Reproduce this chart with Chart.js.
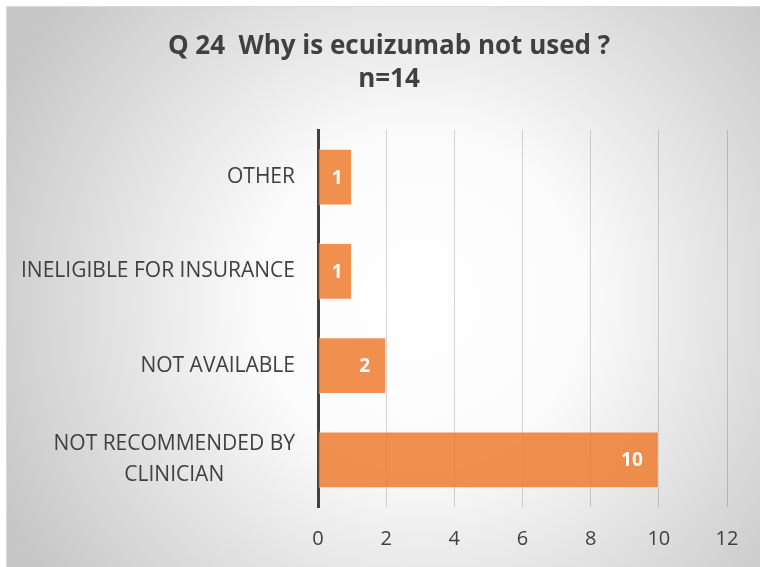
<!DOCTYPE html>
<html>
<head>
<meta charset="utf-8">
<script src="https://cdn.jsdelivr.net/npm/chart.js@4.4.1/dist/chart.umd.min.js"></script>
<style>
    html, body { margin: 0; padding: 0; background: #ffffff; }
    #wrap { width: 760px; height: 567px; }
</style>
</head>
<body>
<div id="wrap"><canvas id="chart" width="760" height="567"></canvas></div>
<script>
var categories = ["OTHER", "INELIGIBLE FOR INSURANCE", "NOT AVAILABLE", ["NOT RECOMMENDED BY", "CLINICIAN"]];
var counts = [1, 1, 2, 10];
var xTicks = [0, 2, 4, 6, 8, 10, 12];
var titleLines = ["Q 24  Why is ecuizumab not used ?", "n=14"];

var textColor = "#404040";
var fontFamily = "'Open Sans', 'Noto Sans', sans-serif";

// background: radial gradient box with thin border
var bgPlugin = {
    id: "bgPlugin",
    beforeDraw: function(chart) {
        var ctx = chart.ctx;
        ctx.save();
        var g = ctx.createRadialGradient(420, 300, 0, 420, 300, 470);
        g.addColorStop(0, "#ffffff");
        g.addColorStop(0.35, "#fbfbfb");
        g.addColorStop(1, "#c6c6c6");
        ctx.fillStyle = g;
        ctx.fillRect(6, 6, chart.width - 6, chart.height - 6);
        ctx.strokeStyle = "#d9d9d9";
        ctx.lineWidth = 1;
        ctx.beginPath();
        ctx.moveTo(6.5, chart.height);
        ctx.lineTo(6.5, 6.5);
        ctx.lineTo(chart.width, 6.5);
        ctx.stroke();
        ctx.restore();
    }
};

// title, centred on the whole chart box
var titlePlugin = {
    id: "titlePlugin",
    afterDraw: function(chart) {
        var ctx = chart.ctx;
        ctx.save();
        ctx.font = "bold 26px " + fontFamily;
        ctx.fillStyle = textColor;
        ctx.textAlign = "center";
        ctx.textBaseline = "middle";
        titleLines.forEach(function(t, i) {
            ctx.fillText(t, 389, 47 + i * 33);
        });
        ctx.restore();
    }
};

// category labels: right aligned block, multi-line centered inside
var catLabelPlugin = {
    id: "catLabelPlugin",
    afterDraw: function(chart) {
        var ctx = chart.ctx;
        var yScale = chart.scales.y;
        var right = chart.chartArea.left - 23;
        ctx.save();
        ctx.font = "21px " + fontFamily;
        ctx.fillStyle = textColor;
        ctx.textBaseline = "middle";
        categories.forEach(function(label, i) {
            var lines = Array.isArray(label) ? label : [label];
            var widths = lines.map(function(l) { return ctx.measureText(l).width; });
            var blockW = Math.max.apply(null, widths);
            var cx = right - blockW / 2;
            var yc = yScale.getPixelForValue(i);
            var lh = 31;
            ctx.textAlign = "center";
            lines.forEach(function(l, j) {
                ctx.fillText(l, cx, yc + (j - (lines.length - 1) / 2) * lh);
            });
        });
        ctx.restore();
    }
};

// value labels inside bar end
var valueLabelPlugin = {
    id: "valueLabelPlugin",
    afterDatasetsDraw: function(chart) {
        var ctx = chart.ctx;
        var meta = chart.getDatasetMeta(0);
        ctx.save();
        ctx.font = "bold 19px " + fontFamily;
        ctx.fillStyle = "#ffffff";
        ctx.textBaseline = "middle";
        meta.data.forEach(function(bar, i) {
            var txt = String(counts[i]);
            var w = ctx.measureText(txt).width;
            var barW = bar.x - bar.base;
            if (barW < w + 30) {
                ctx.textAlign = "center";
                ctx.fillText(txt, (bar.x + bar.base) / 2 + 2, bar.y + 1);
            } else {
                ctx.textAlign = "right";
                ctx.fillText(txt, bar.x - 16, bar.y + 1);
            }
        });
        ctx.restore();
    }
};

var ctx = document.getElementById("chart").getContext("2d");
var chart = new Chart(ctx, {
    type: "bar",
    plugins: [bgPlugin, titlePlugin, catLabelPlugin, valueLabelPlugin],
    data: {
        labels: categories,
        datasets: [{
            data: counts,
            backgroundColor: "rgba(237, 125, 49, 0.86)",
            borderColor: "rgba(255, 255, 255, 0.45)",
            borderWidth: 1,
            barPercentage: 0.6,
            categoryPercentage: 1.0
        }]
    },
    options: {
        indexAxis: "y",
        responsive: false,
        animation: false,
        layout: {
            padding: { left: 6, right: 33, top: 130, bottom: 0 }
        },
        plugins: {
            legend: { display: false },
            tooltip: { enabled: false },
            title: { display: false }
        },
        scales: {
            x: {
                min: 0,
                max: 12,
                afterBuildTicks: function(scale) {
                    scale.ticks = xTicks.map(function(v) { return { value: v }; });
                },
                afterFit: function(scale) {
                    scale.height = 60;
                },
                grid: {
                    color: "rgba(0, 0, 0, 0.16)",
                    lineWidth: 1,
                    drawTicks: false
                },
                border: { display: false },
                ticks: {
                    color: textColor,
                    font: { family: fontFamily, size: 20 },
                    padding: 20
                }
            },
            y: {
                grid: { display: false, drawTicks: false },
                border: { display: true, color: "#404040", width: 3 },
                ticks: { display: false },
                afterFit: function(scale) {
                    scale.width = 312;
                }
            }
        }
    }
});
</script>
</body>
</html>
